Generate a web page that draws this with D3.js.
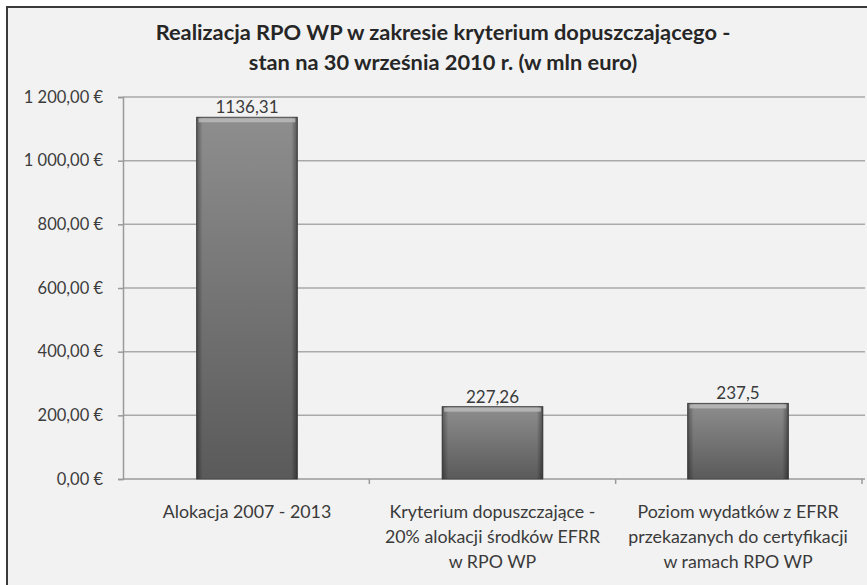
<!DOCTYPE html>
<html>
<head>
<meta charset="utf-8">
<script src="https://cdn.jsdelivr.net/npm/d3@7"></script>
<style>
  body { margin: 0; background: #fff; }
  text { font-family: Lato, "Open Sans", sans-serif; }
</style>
</head>
<body>
<div id="chart"></div>
<script>
// data
const categories = [
  ["Alokacja 2007 - 2013"],
  ["Kryterium dopuszczające -", "20% alokacji środków EFRR", "w RPO WP"],
  ["Poziom wydatków z EFRR", "przekazanych do certyfikacji", "w ramach RPO WP"]
];
const values = [1136.31, 227.26, 237.5];
const valueLabels = ["1136,31", "227,26", "237,5"];
const yTicks = [0, 200, 400, 600, 800, 1000, 1200];
const titleLines = [
  "Realizacja RPO WP w zakresie kryterium dopuszczającego -",
  "stan na 30 września 2010 r. (w mln euro)"
];

const W = 867, H = 585;
const margin = {left: 123, right: 5, top: 97, bottom: 106};
const plotRight = 862;

const svg = d3.select("#chart").append("svg")
  .attr("width", W).attr("height", H);

// background + frame
svg.append("rect").attr("x", 6).attr("y", 6).attr("width", W - 6).attr("height", H - 6)
  .attr("fill", "#f2f2f2");
svg.append("path").attr("d", "M7," + H + "V7H" + W)
  .attr("fill", "none").attr("stroke", "#3a3a3a").attr("stroke-width", 2);

const defs = svg.append("defs");
const grad = defs.append("linearGradient").attr("id", "barGrad")
  .attr("x1", 0).attr("x2", 0).attr("y1", 0).attr("y2", 1);
grad.append("stop").attr("offset", "0%").attr("stop-color", "#8e8e8e");
grad.append("stop").attr("offset", "100%").attr("stop-color", "#5a5a5a");
const side = defs.append("linearGradient").attr("id", "sideGrad")
  .attr("x1", 0).attr("x2", 1).attr("y1", 0).attr("y2", 0);
side.append("stop").attr("offset", "0%").attr("stop-color", "#000").attr("stop-opacity", 0.35);
side.append("stop").attr("offset", "6%").attr("stop-color", "#000").attr("stop-opacity", 0);
side.append("stop").attr("offset", "94%").attr("stop-color", "#000").attr("stop-opacity", 0);
side.append("stop").attr("offset", "100%").attr("stop-color", "#000").attr("stop-opacity", 0.4);

const x = d3.scaleBand()
  .domain(d3.range(values.length))
  .range([margin.left, plotRight])
  .paddingInner(0.59).paddingOuter(0.3);

const y = d3.scaleLinear()
  .domain([0, 1200])
  .range([H - margin.bottom, margin.top]);

const fmt = v => d3.format(",.2f")(v).replace(/,/g, " ").replace(".", ",") + " €";

// gridlines
svg.append("g").selectAll("line")
  .data(yTicks.filter(d => d > 0))
  .enter().append("line")
  .attr("x1", margin.left).attr("x2", W - 2)
  .attr("y1", d => y(d)).attr("y2", d => y(d))
  .attr("stroke", "#a9a9a9").attr("stroke-width", 1.5);

// y axis
const yAxis = svg.append("g")
  .attr("transform", "translate(" + margin.left + ",0)")
  .call(d3.axisLeft(y).tickValues(yTicks).tickSize(5).tickPadding(15).tickFormat(fmt));
yAxis.attr("font-size", 16.5).attr("font-family", "Lato, 'Open Sans', sans-serif");
yAxis.select(".domain").attr("stroke", "#9a9a9a").attr("stroke-width", 1.5);
yAxis.selectAll(".tick line").attr("stroke", "#9a9a9a").attr("stroke-width", 1.5);
yAxis.selectAll("text").attr("fill", "#3c3c3c");

// x axis line with category ticks
svg.append("line").attr("x1", margin.left).attr("x2", W - 2)
  .attr("y1", y(0)).attr("y2", y(0))
  .attr("stroke", "#9a9a9a").attr("stroke-width", 1.5);
const bounds = [1, 2, 3].map(i => margin.left + (plotRight - margin.left) * i / 3);
svg.append("g").selectAll("line").data(bounds).enter().append("line")
  .attr("x1", d => d).attr("x2", d => d)
  .attr("y1", y(0)).attr("y2", y(0) + 5)
  .attr("stroke", "#9a9a9a").attr("stroke-width", 1.5);

// bars
const bars = svg.append("g").selectAll("g").data(values).enter().append("g");
bars.append("rect")
  .attr("x", (d, i) => x(i)).attr("y", d => y(d))
  .attr("width", x.bandwidth()).attr("height", d => y(0) - y(d))
  .attr("fill", "url(#barGrad)").attr("stroke", "#4a4a4a").attr("stroke-width", 1);
bars.append("rect")
  .attr("x", (d, i) => x(i)).attr("y", d => y(d))
  .attr("width", x.bandwidth()).attr("height", d => y(0) - y(d))
  .attr("fill", "url(#sideGrad)");
bars.append("rect")
  .attr("x", (d, i) => x(i) + 2).attr("y", d => y(d) + 1)
  .attr("width", x.bandwidth() - 4).attr("height", 4)
  .attr("fill", "#bdbdbd").attr("opacity", 0.8);

// value labels
svg.append("g").selectAll("text").data(values).enter().append("text")
  .attr("x", (d, i) => x(i) + x.bandwidth() / 2)
  .attr("y", d => y(d) - 4)
  .attr("text-anchor", "middle")
  .attr("fill", "#3a3a3a").style("font-size", "17px")
  .text((d, i) => valueLabels[i]);

// category labels
const cat = svg.append("g").selectAll("text").data(categories).enter().append("text")
  .attr("x", (d, i) => x(i) + x.bandwidth() / 2)
  .attr("y", 518)
  .attr("text-anchor", "middle")
  .attr("fill", "#3a3a3a").style("font-size", "17.8px");
cat.selectAll("tspan").data(d => d).enter().append("tspan")
  .attr("x", function() { return d3.select(this.parentNode).attr("x"); })
  .attr("dy", (d, i) => i === 0 ? 0 : 25)
  .text(d => d);

// title
svg.append("g").selectAll("text").data(titleLines).enter().append("text")
  .attr("x", 443).attr("y", (d, i) => 40 + i * 30)
  .attr("text-anchor", "middle")
  .attr("fill", "#262626").style("font-size", "21.8px").style("font-weight", "bold")
  .text(d => d);
</script>
</body>
</html>
